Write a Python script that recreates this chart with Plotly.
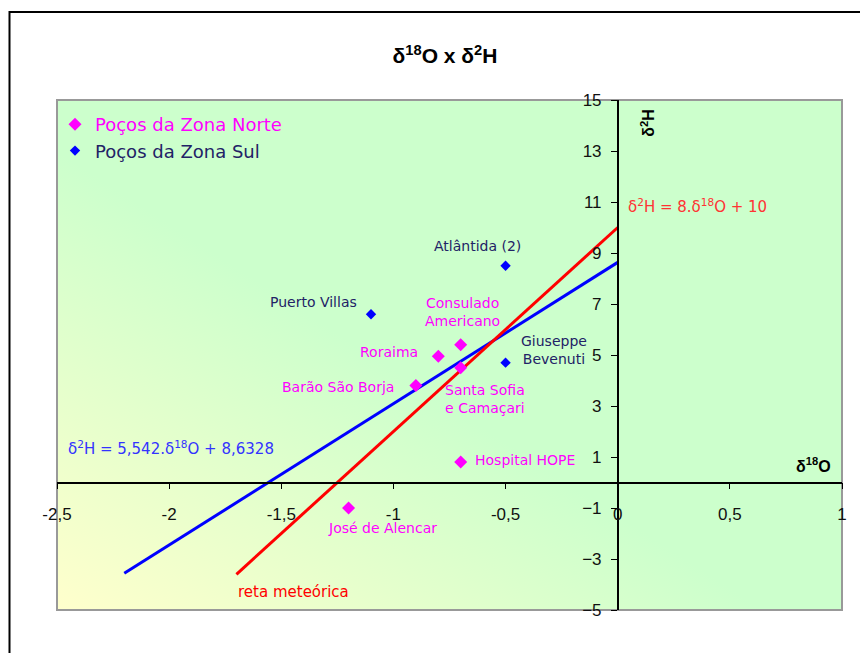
import base64
import plotly.graph_objects as go

# ---- data ----
norte_names = ["Consulado<br>Americano", "Roraima", "Santa Sofia<br>e Camaçari", "Barão São Borja",
               "Hospital HOPE", "José de Alencar"]
norte_x = [-0.7, -0.8, -0.7, -0.9, -0.7, -1.2]
norte_y = [5.4, 4.95, 4.5, 3.8, 0.8, -1.0]

sul_names = ["Atlântida (2)", "Puerto Villas", "Giuseppe<br>Bevenuti"]
sul_x = [-0.5, -1.1, -0.5]
sul_y = [8.5, 6.6, 4.7]

reg_x = [-2.2, 0.0]
reg_y = [-3.56, 8.6328]
met_x = [-1.7, 0.0]
met_y = [-3.6, 10.0]

x_ticks = [-2.5, -2, -1.5, -1, -0.5, 0, 0.5, 1]
x_tick_text = ["-2,5", "-2", "-1,5", "-1", "-0,5", "0", "0,5", "1"]
y_ticks = [15, 13, 11, 9, 7, 5, 3, 1, -1, -3, -5]

# label offsets (pixels) relative to each point
norte_off = [(2, 33), (-49, 4), (24, -31), (-78, -1), (64, 2), (34, -20)]
sul_off = [(-28, 20), (-58, 12), (48, 13)]

MAG = "#FF00FF"
NAVY = "#222266"
LABEL_FONT = "DejaVu Sans"

fig = go.Figure()

fig.add_trace(go.Scatter(x=reg_x, y=reg_y, mode="lines", line=dict(color="#0000FF", width=3),
                         showlegend=False, hoverinfo="skip"))
fig.add_trace(go.Scatter(x=met_x, y=met_y, mode="lines", line=dict(color="#FF0000", width=3),
                         showlegend=False, hoverinfo="skip"))
fig.add_trace(go.Scatter(x=norte_x, y=norte_y, mode="markers",
                         marker=dict(symbol="diamond", size=10, color=MAG),
                         name="<span style='color:#FF00FF'>Poços da Zona Norte</span>"))
fig.add_trace(go.Scatter(x=sul_x, y=sul_y, mode="markers",
                         marker=dict(symbol="diamond", size=8, color="#0000FF"),
                         name="<span style='color:#222266'>Poços da Zona Sul</span>"))

ann = []
for n, x, y, (dx, dy) in zip(norte_names, norte_x, norte_y, norte_off):
    ann.append(dict(x=x, y=y, xref="x", yref="y", text=n, showarrow=False, xshift=dx, yshift=dy,
                    font=dict(family=LABEL_FONT, size=14, color=MAG), align="center"))
for n, x, y, (dx, dy) in zip(sul_names, sul_x, sul_y, sul_off):
    ann.append(dict(x=x, y=y, xref="x", yref="y", text=n, showarrow=False, xshift=dx, yshift=dy,
                    font=dict(family=LABEL_FONT, size=14, color=NAVY), align="center"))

# equations and line labels
ann.append(dict(x=0, y=10.85, xref="x", yref="y", xanchor="left", showarrow=False, xshift=8,
                text="δ<sup>2</sup>H = 8.δ<sup>18</sup>O + 10",
                font=dict(family=LABEL_FONT, size=15, color="#FF3333")))
ann.append(dict(x=-2.5, y=1.35, xref="x", yref="y", xanchor="left", showarrow=False, xshift=9,
                text="δ<sup>2</sup>H = 5,542.δ<sup>18</sup>O + 8,6328",
                font=dict(family=LABEL_FONT, size=15, color="#3333FF")))
ann.append(dict(x=met_x[0], y=met_y[0], xref="x", yref="y", xanchor="left", showarrow=False,
                yshift=-18, text="reta meteórica",
                font=dict(family=LABEL_FONT, size=15, color="#FF0000")))
# axis titles
ann.append(dict(x=0.96, y=0.68, xref="x", yref="y", xanchor="right", showarrow=False,
                text="<b>δ<sup>18</sup>O</b>",
                font=dict(family="Arial", size=16, color="#000000")))
ann.append(dict(x=0, y=14.1, xref="x", yref="y", showarrow=False, xshift=30, textangle=-90,
                text="<b>δ<sup>2</sup>H</b>",
                font=dict(family="Arial", size=16, color="#000000")))

# gradient background as svg
svg = ("<svg xmlns='http://www.w3.org/2000/svg' width='785' height='510' preserveAspectRatio='none'>"
       "<defs><linearGradient id='g' x1='0' y1='1' x2='1' y2='0'>"
       "<stop offset='0' stop-color='#FFFFCC'/><stop offset='0.45' stop-color='#CCFFCC'/>"
       "<stop offset='1' stop-color='#CCFFCC'/></linearGradient></defs>"
       "<rect width='785' height='510' fill='url(#g)'/></svg>")
src = "data:image/svg+xml;base64," + base64.b64encode(svg.encode()).decode()

# page has an 8px body margin
W, H = 860, 645
L, R, T, B = 49, 26, 92, 43
pw, ph = W - L - R, H - T - B
PX0, PY1 = 57, 610  # plot area left / bottom in page pixels


def px(xp):
    return (xp - PX0) / pw


def py(yp):
    return (PY1 - yp) / ph


fig.update_layout(
    width=W, height=H,
    margin=dict(l=L, r=R, t=T, b=B),
    paper_bgcolor="white", plot_bgcolor="rgba(0,0,0,0)",
    title=dict(text="<b>δ<sup>18</sup>O x δ<sup>2</sup>H</b>", x=(445 - 8) / W, xanchor="center",
               y=1 - (56 - 8) / H, yanchor="middle", font=dict(family="Arial", size=21, color="#000")),
    images=[dict(source=src, xref="paper", yref="paper", x=0, y=1, sizex=1, sizey=1,
                 sizing="stretch", layer="below")],
    showlegend=True,
    legend=dict(x=px(55), y=py(106), xanchor="left", yanchor="top",
                bgcolor="rgba(0,0,0,0)", font=dict(family=LABEL_FONT, size=18),
                tracegroupgap=0, traceorder="normal"),
    annotations=ann,
    shapes=[
        dict(type="rect", xref="paper", yref="paper", x0=0, y0=0, x1=1, y1=1,
             line=dict(color="#999999", width=2), layer="below"),
        dict(type="rect", xref="paper", yref="paper", x0=px(9.5), x1=px(900),
             y0=py(680), y1=py(12), line=dict(color="#000000", width=2)),
    ],
    xaxis=dict(range=[-2.5, 1], tickvals=x_ticks, ticktext=x_tick_text, showgrid=False,
               zeroline=False, showline=True, linecolor="#000", linewidth=1.5,
               anchor="free", position=0.25, ticks="outside", ticklen=6, tickcolor="#000",
               tickfont=dict(family="Arial", size=17, color="#111"), ticklabelstandoff=10),
    yaxis=dict(range=[-5, 15], tickvals=y_ticks, showgrid=False, zeroline=False, showline=True,
               linecolor="#000", linewidth=1.5, anchor="free", position=2.5 / 3.5,
               ticks="outside", ticklen=6, tickcolor="#000",
               tickfont=dict(family="Arial", size=17, color="#111"), ticklabelstandoff=6),
)

fig.write_html("out.html")
